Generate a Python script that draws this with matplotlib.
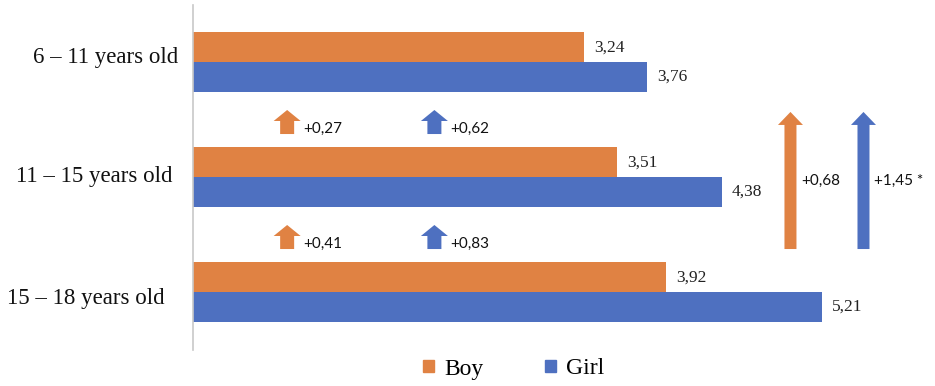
import numpy as np
import matplotlib
matplotlib.use("Agg")
import matplotlib.pyplot as plt
from matplotlib.patches import Patch

# ------------------------------------------------
# data
# ------------------------------------------------
groups = ["6 – 11 years old", "11 – 15 years old", "15 – 18 years old"]
boy = [3.24, 3.51, 3.92]
girl = [3.76, 4.38, 5.21]
step_labels_boy = ["+0,27", "+0,41"]
step_labels_girl = ["+0,62", "+0,83"]
total_boy = "+0,68"
total_girl = "+1,45 *"

ORANGE = "#E08243"
BLUE = "#4E70C0"
SERIF = "Liberation Serif"
SANS = "Lato"

fig = plt.figure(figsize=(9.35, 3.86), dpi=100)
ax = fig.add_axes([193 / 935, 36 / 386, 742 / 935, 345 / 386])

y = np.arange(len(groups))
h = 0.257
b1 = ax.barh(y - h / 2, boy, height=h, color=ORANGE)
b2 = ax.barh(y + h / 2, girl, height=h, color=BLUE)

fmt = lambda v: f"{v:.2f}".replace(".", ",")
ax.bar_label(b1, labels=[fmt(v) for v in boy], padding=7.5,
             fontsize=12.5, family=SERIF, color="#222222")
ax.bar_label(b2, labels=[fmt(v) for v in girl], padding=7.5,
             fontsize=12.5, family=SERIF, color="#222222")

ax.set_xlim(0, 742 / 120.7)
ax.set_ylim(2.504, -0.496)
ax.set_yticks([])
ax.set_xticks([])
for s in ["top", "right", "bottom"]:
    ax.spines[s].set_visible(False)
ax.spines["left"].set_color("#C8C8C8")
ax.spines["left"].set_linewidth(1.2)

# category labels (separate text boxes in the original, slightly offset)
label_offsets = [(-15, 5), (-20, 1), (-28, -6)]   # pixels
for yi, lab, (dx, dy) in zip(y, groups, label_offsets):
    ax.annotate(lab, xy=(0, yi), xycoords=ax.get_yaxis_transform(),
                xytext=(dx, dy), textcoords="offset pixels",
                ha="right", va="center", family=SERIF, fontsize=16.5,
                color="#111111")

# small step arrows between age groups
sx = 1 / 120.7   # value units per px
sy = 1 / 115     # category units per px
for i in range(2):
    tail = i + 0.626
    tip = i + 0.417
    for xc, lab, col in [(0.78, step_labels_boy[i], ORANGE),
                         (2.0, step_labels_girl[i], BLUE)]:
        ax.arrow(xc, tail, 0, tip - tail, width=14 * sx, head_width=27 * sx,
                 head_length=11 * sy, length_includes_head=True,
                 color=col, lw=0)
        ax.text(xc + 16 * sx, i + 0.585, lab, family=SANS, fontsize=11,
                va="center", ha="left", color="#111111")

# big arrows for total change
for xc, lab, col in [(4.95, total_boy, ORANGE), (5.555, total_girl, BLUE)]:
    ax.arrow(xc, 1.626, 0, 0.434 - 1.626, width=12 * sx, head_width=25 * sx,
             head_length=13 * sy, length_includes_head=True, color=col, lw=0)
    ax.text(xc + 11 * sx, 1.03, lab, family=SANS, fontsize=11,
            va="center", ha="left", color="#111111")

handles = [Patch(color=ORANGE, label="Boy"), Patch(color=BLUE, label="Girl")]
fig.legend(handles=handles, loc="center", bbox_to_anchor=(514 / 935, 1 - 369 / 386),
           ncol=2, frameon=False, prop={"family": SERIF, "size": 17},
           handlelength=0.45, handleheight=0.45, handletextpad=0.45,
           columnspacing=2.6)

fig.savefig("out.png", dpi=100)
